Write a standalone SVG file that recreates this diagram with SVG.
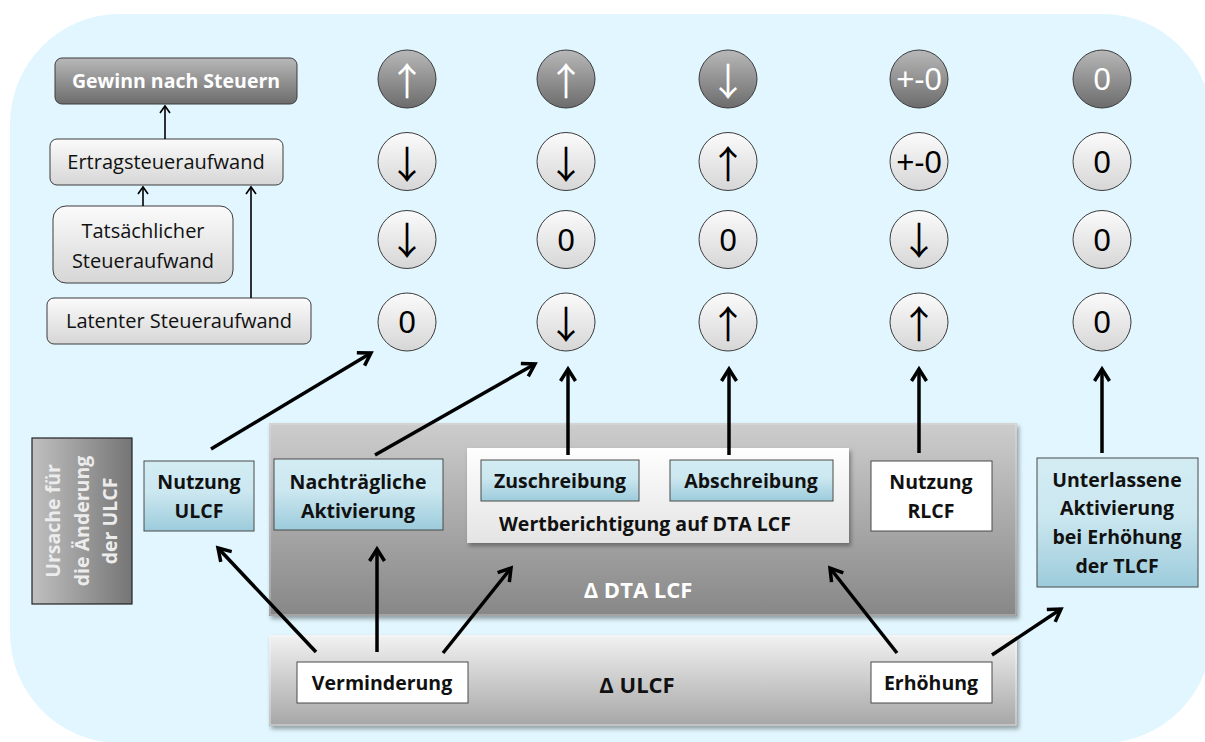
<svg xmlns="http://www.w3.org/2000/svg" width="1205" height="742" viewBox="0 0 1205 742">
<defs>
<linearGradient id="gLight" x1="0" y1="0" x2="0" y2="1"><stop offset="0" stop-color="#fbfbfb"/><stop offset="1" stop-color="#d6d6d6"/></linearGradient>
<linearGradient id="gDark" x1="0" y1="0" x2="0" y2="1"><stop offset="0" stop-color="#b8b8b8"/><stop offset="1" stop-color="#6c6c6c"/></linearGradient>
<linearGradient id="gBlue" x1="0" y1="0" x2="0" y2="1"><stop offset="0" stop-color="#d3ecf4"/><stop offset="0.45" stop-color="#cbe7f0"/><stop offset="1" stop-color="#9ccbdb"/></linearGradient>
<linearGradient id="gDTA" x1="0" y1="0" x2="0" y2="1"><stop offset="0" stop-color="#cdcdcd"/><stop offset="1" stop-color="#878787"/></linearGradient>
<linearGradient id="gULCF" x1="0" y1="0" x2="0" y2="1"><stop offset="0" stop-color="#f2f2f2"/><stop offset="1" stop-color="#a6a6a6"/></linearGradient>
<linearGradient id="gWert" x1="0" y1="0" x2="0" y2="1"><stop offset="0" stop-color="#fefefe"/><stop offset="1" stop-color="#e4e4e4"/></linearGradient>
<linearGradient id="gUrs" x1="0" y1="0" x2="1" y2="0"><stop offset="0" stop-color="#c0c0c0"/><stop offset="1" stop-color="#757575"/></linearGradient>
<filter id="shadow" x="-5%" y="-5%" width="110%" height="120%"><feDropShadow dx="2" dy="3" stdDeviation="2" flood-color="#000" flood-opacity="0.35"/></filter>
<marker id="ah" markerUnits="userSpaceOnUse" viewBox="-16 -10 20 20" refX="0" refY="0" markerWidth="20" markerHeight="20" orient="auto">
<path d="M-12,-7.5 L0,0 L-12,7.5" fill="none" stroke="#000" stroke-width="3.5" stroke-linejoin="miter"/>
</marker>
<marker id="ahs" markerUnits="userSpaceOnUse" viewBox="-10 -8 12 16" refX="0" refY="0" markerWidth="12" markerHeight="16" orient="auto">
<path d="M-7,-5 L0,0 L-7,5" fill="none" stroke="#000" stroke-width="1.6"/>
</marker>
</defs>
<style>
.t{font-family:"Open Sans","Liberation Sans",sans-serif;text-anchor:middle}
.b{font-weight:bold;font-size:19.5px;fill:#111}
.d{font-weight:bold;font-size:22px}
.r{font-size:20px;fill:#111}
.c{font-family:"Liberation Sans",Arial,sans-serif;text-anchor:middle;font-size:31px}
.a{font-family:"Noto Sans CJK SC","DejaVu Sans",sans-serif;text-anchor:middle;font-size:38px}
.cl circle{fill:url(#gLight);stroke:#3c3c3c;stroke-width:1}
.cd circle{fill:url(#gDark);stroke:#3c3c3c;stroke-width:1}
.cl text{fill:#000}
.cd text{fill:#fff}
.blue{fill:url(#gBlue);stroke:#4a4a4a;stroke-width:1}
.white{fill:#fff;stroke:#4a4a4a;stroke-width:1}
.lbox{fill:url(#gLight);stroke:#3c3c3c;stroke-width:1}
.thick{stroke:#000;stroke-width:3.5;fill:none;marker-end:url(#ah)}
.thin{stroke:#000;stroke-width:1.6;fill:none;marker-end:url(#ahs)}
</style>
<rect x="10" y="14" width="1202" height="729" rx="110" ry="110" fill="#e1f6fe"/>

<g id="gewinn"><rect x="55" y="58" width="242" height="46" rx="7" fill="url(#gDark)" stroke="#3c3c3c"/><text class="t b" x="176" y="88" style="fill:#fff">Gewinn nach Steuern</text></g>
<g id="ertrag"><rect class="lbox" x="50" y="139" width="233" height="46" rx="7"/><text class="t r" x="166" y="169">Ertragsteueraufwand</text></g>
<g id="tats"><rect class="lbox" x="53" y="206" width="180" height="77" rx="13"/><text class="t r" x="143" y="238">Tatsächlicher</text><text class="t r" x="143" y="268">Steueraufwand</text></g>
<g id="latent"><rect class="lbox" x="47" y="298" width="264" height="46" rx="7"/><text class="t r" x="179" y="328">Latenter Steueraufwand</text></g>

<g id="circles">
<g id="c11" class="cd"><circle cx="407" cy="79" r="29"/><text class="a" x="407" y="95">↑</text></g>
<g id="c12" class="cd"><circle cx="566" cy="79" r="29"/><text class="a" x="566" y="95">↑</text></g>
<g id="c13" class="cd"><circle cx="728" cy="79" r="29"/><text class="a" x="728" y="95">↓</text></g>
<g id="c14" class="cd"><circle cx="919" cy="79" r="29"/><text class="c" x="919" y="90">+-0</text></g>
<g id="c15" class="cd"><circle cx="1102" cy="79" r="29"/><text class="c" x="1102" y="90">0</text></g>
<g id="c21" class="cl"><circle cx="407" cy="161.5" r="29"/><text class="a" x="407" y="178">↓</text></g>
<g id="c22" class="cl"><circle cx="566" cy="161.5" r="29"/><text class="a" x="566" y="178">↓</text></g>
<g id="c23" class="cl"><circle cx="728" cy="161.5" r="29"/><text class="a" x="728" y="178">↑</text></g>
<g id="c24" class="cl"><circle cx="919" cy="161.5" r="29"/><text class="c" x="919" y="172.5">+-0</text></g>
<g id="c25" class="cl"><circle cx="1102" cy="161.5" r="29"/><text class="c" x="1102" y="172.5">0</text></g>
<g id="c31" class="cl"><circle cx="407" cy="239.5" r="29"/><text class="a" x="407" y="254">↓</text></g>
<g id="c32" class="cl"><circle cx="566" cy="239.5" r="29"/><text class="c" x="566" y="250.5">0</text></g>
<g id="c33" class="cl"><circle cx="728" cy="239.5" r="29"/><text class="c" x="728" y="250.5">0</text></g>
<g id="c34" class="cl"><circle cx="919" cy="239.5" r="29"/><text class="a" x="919" y="254">↓</text></g>
<g id="c35" class="cl"><circle cx="1102" cy="239.5" r="29"/><text class="c" x="1102" y="250.5">0</text></g>
<g id="c41" class="cl"><circle cx="407" cy="322" r="29"/><text class="c" x="407" y="333">0</text></g>
<g id="c42" class="cl"><circle cx="566" cy="322" r="29"/><text class="a" x="566" y="338">↓</text></g>
<g id="c43" class="cl"><circle cx="728" cy="322" r="29"/><text class="a" x="728" y="338">↑</text></g>
<g id="c44" class="cl"><circle cx="919" cy="322" r="29"/><text class="a" x="919" y="338">↑</text></g>
<g id="c45" class="cl"><circle cx="1102" cy="322" r="29"/><text class="c" x="1102" y="333">0</text></g>
</g>

<g id="ursache"><rect x="32" y="438" width="100" height="166" fill="url(#gUrs)" stroke="#222" stroke-width="1.2"/>
<g transform="translate(82 521) rotate(-90)"><text class="t b" x="0" y="-22" style="fill:#ececec">Ursache für</text><text class="t b" x="0" y="7" style="fill:#ececec">die Änderung</text><text class="t b" x="0" y="35" style="fill:#ececec">der ULCF</text></g></g>

<g id="dta"><rect x="269" y="423" width="748" height="193" fill="url(#gDTA)" filter="url(#shadow)"/><rect x="270" y="424" width="746" height="191" fill="none" stroke="#e6e6e6" stroke-opacity="0.6"/><text class="t d" x="638" y="598" style="fill:#fff">Δ DTA LCF</text></g>
<g id="ulcf"><rect x="269" y="635" width="748" height="91" fill="url(#gULCF)" filter="url(#shadow)"/><rect x="270" y="636" width="746" height="89" fill="none" stroke="#fafafa" stroke-opacity="0.7"/><text class="t d" x="637" y="693" style="fill:#111">Δ ULCF</text></g>
<g id="wert"><rect x="467" y="448" width="382" height="95" fill="url(#gWert)" filter="url(#shadow)"/><text class="t b" x="645" y="531">Wertberichtigung auf DTA LCF</text></g>

<g id="nutzungULCF"><rect class="blue" x="144" y="461" width="110" height="70"/><text class="t b" x="199" y="489">Nutzung</text><text class="t b" x="199" y="518">ULCF</text></g>
<g id="nachtr"><rect class="blue" x="274" y="459" width="169" height="71"/><text class="t b" x="358" y="489">Nachträgliche</text><text class="t b" x="358" y="518">Aktivierung</text></g>
<g id="zuschr"><rect class="blue" x="481" y="460" width="158" height="41"/><text class="t b" x="560" y="488">Zuschreibung</text></g>
<g id="abschr"><rect class="blue" x="670" y="460" width="163" height="41"/><text class="t b" x="751" y="488">Abschreibung</text></g>
<g id="nutzungRLCF"><rect class="white" x="871" y="461" width="121" height="70"/><text class="t b" x="931" y="489">Nutzung</text><text class="t b" x="931" y="518">RLCF</text></g>
<g id="unterl"><rect class="blue" x="1037" y="458" width="161" height="129"/><text class="t b" x="1117" y="487">Unterlassene</text><text class="t b" x="1117" y="515">Aktivierung</text><text class="t b" x="1117" y="544">bei Erhöhung</text><text class="t b" x="1117" y="573">der TLCF</text></g>
<g id="vermind"><rect class="white" x="297" y="662" width="171" height="41"/><text class="t b" x="382" y="690">Verminderung</text></g>
<g id="erhoeh"><rect class="white" x="871" y="662" width="121" height="41"/><text class="t b" x="931" y="690">Erhöhung</text></g>

<g id="connectors">
<line class="thin" x1="165" y1="139" x2="165" y2="106"/>
<line class="thin" x1="143" y1="206" x2="143" y2="187"/>
<line class="thin" x1="251" y1="298" x2="251" y2="187"/>
<line class="thick" x1="211" y1="449" x2="371" y2="353"/>
<line class="thick" x1="375" y1="455" x2="535" y2="364"/>
<line class="thick" x1="568" y1="455" x2="568" y2="369"/>
<line class="thick" x1="729" y1="455" x2="729" y2="369"/>
<line class="thick" x1="919" y1="453" x2="919" y2="369"/>
<line class="thick" x1="1102" y1="453" x2="1102" y2="369"/>
<line class="thick" x1="316" y1="652" x2="218" y2="548"/>
<line class="thick" x1="377" y1="652" x2="377" y2="549"/>
<line class="thick" x1="443" y1="653" x2="511" y2="568"/>
<line class="thick" x1="897" y1="653" x2="830" y2="568"/>
<line class="thick" x1="992" y1="655" x2="1061" y2="609"/>
</g>
</svg>
